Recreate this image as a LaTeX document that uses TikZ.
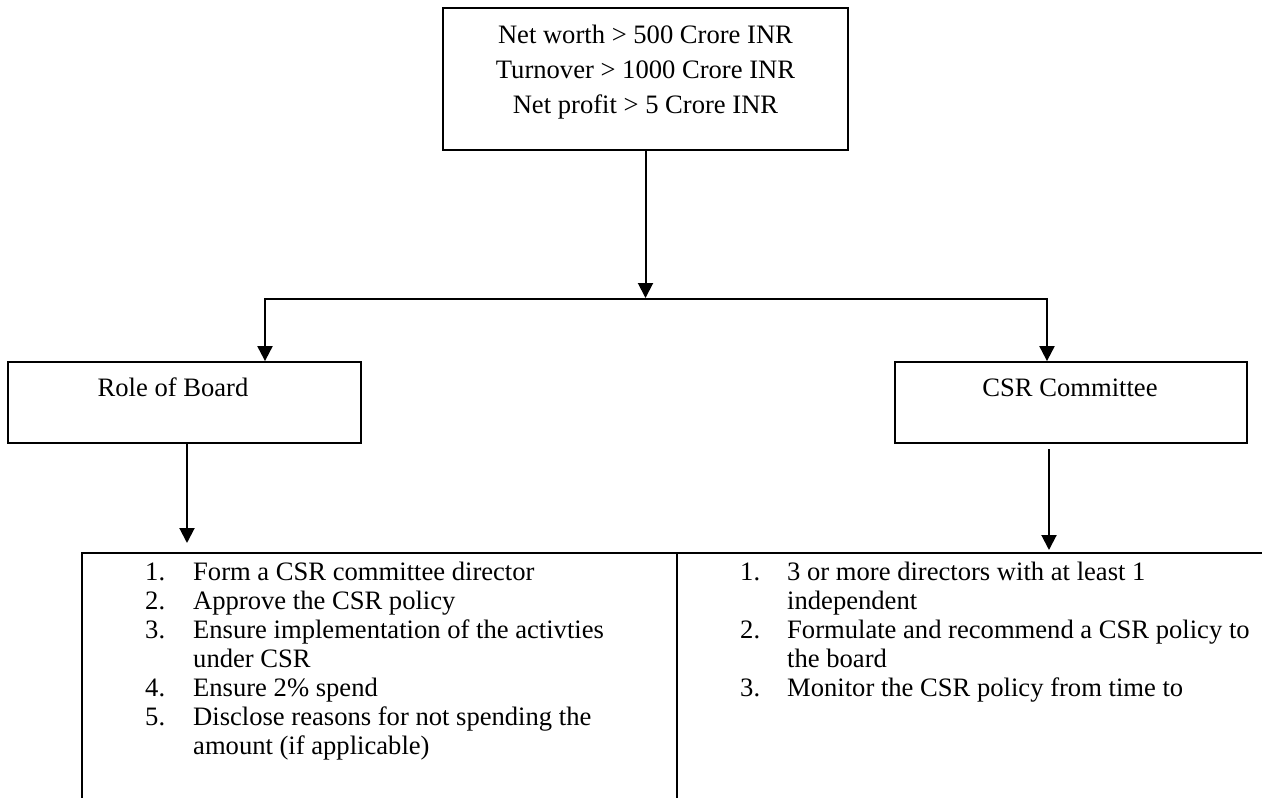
\documentclass[tikz,border=0pt]{standalone}
\usepackage{fontspec}
\setmainfont{Liberation Serif}
\usetikzlibrary{arrows.meta}
\begin{document}
\begin{tikzpicture}[x=1pt,y=-1pt,
  boxshape/.style={draw=black, line width=1.8pt, rectangle, inner sep=0pt, fill=none},
  txt/.style={inner sep=0pt, anchor=base, font=\fontsize{26.6pt}{29pt}\selectfont},
  listtxt/.style={inner sep=0pt, anchor=base west, font=\fontsize{26.6pt}{29pt}\selectfont},
  arr/.style={line width=2pt, -{Triangle[width=15pt,length=15pt]}},
  conn/.style={line width=2pt}]
\fill[white] (0,0) rectangle (1262,798);
\useasboundingbox (0,0) rectangle (1262,798);

% boxes
\node[boxshape, minimum width=405pt, minimum height=142pt] (top) at (645.5,79) {};
\node[boxshape, minimum width=353pt, minimum height=81pt] (role) at (184.5,402.5) {};
\node[boxshape, minimum width=352pt, minimum height=81pt] (csr) at (1071,402.5) {};
\node[boxshape, minimum width=595pt, minimum height=300pt] (leftlist) at (379.5,703) {};
\node[boxshape, minimum width=646pt, minimum height=300pt] (rightlist) at (1000,703) {};

% texts
\node[txt, font=\fontsize{26.6pt}{35pt}\selectfont] (toptext) at (645.5,43)
  {\begin{tabular}[t]{@{}c@{}}Net worth {>} 500 Crore INR\\Turnover {>} 1000 Crore INR\\Net profit {>} 5 Crore INR\end{tabular}};
\node[txt] (roletext) at (173,396) {Role of Board};
\node[txt] (csrtext) at (1070,396) {CSR Committee};

\node[listtxt] (lefttext) at (145,580)
  {\begin{tabular}[t]{@{}l@{}l@{}}
   \makebox[48pt][l]{1.} & Form a CSR committee director\\
   \makebox[48pt][l]{2.} & Approve the CSR policy\\
   \makebox[48pt][l]{3.} & Ensure implementation of the activties\\
   & under CSR\\
   \makebox[48pt][l]{4.} & Ensure 2\% spend\\
   \makebox[48pt][l]{5.} & Disclose reasons for not spending the\\
   & amount (if applicable)
  \end{tabular}};
\node[listtxt] (righttext) at (740,580)
  {\begin{tabular}[t]{@{}l@{}l@{}}
   \makebox[47pt][l]{1.} & 3 or more directors with at least 1\\
   & independent\\
   \makebox[47pt][l]{2.} & Formulate and recommend a CSR policy to\\
   & the board\\
   \makebox[47pt][l]{3.} & Monitor the CSR policy from time to
  \end{tabular}};

% connectors
\coordinate (j) at (645.5,299);
\coordinate (jl) at (265,299);
\coordinate (jr) at (1047,299);
\draw[arr] (top.south) -- ([yshift=1pt]j);
\draw[conn] ([xshift=-1pt]jl) -- ([xshift=1pt]jr);
\draw[arr] (jl) -- (jl |- role.north);
\draw[arr] (jr) -- (jr |- csr.north);

\coordinate (la) at (187,543);
\coordinate (rs) at (1049,449);
\coordinate (ra) at (1049,550);
\draw[arr] (role.south -| la) -- (la);
\draw[arr] (rs) -- (ra);
\end{tikzpicture}
\end{document}
